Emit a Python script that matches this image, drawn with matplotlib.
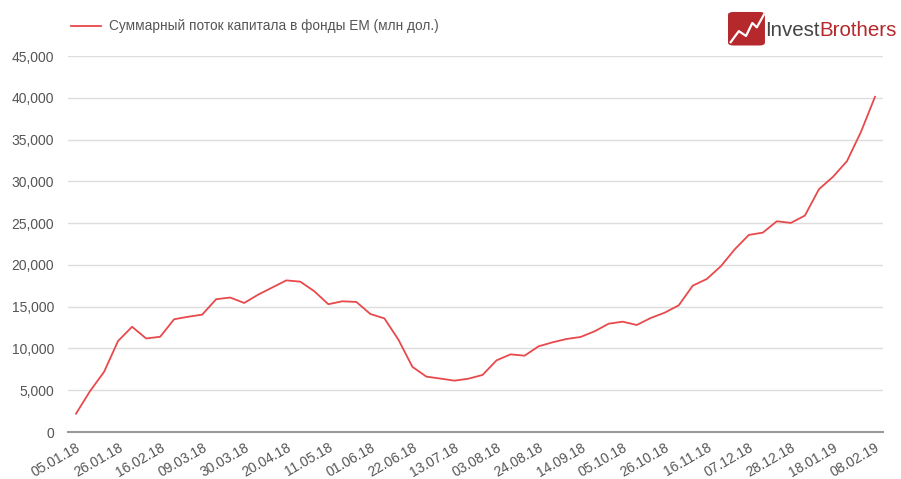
import matplotlib
matplotlib.use('Agg')
import matplotlib.pyplot as plt
from matplotlib.patches import FancyBboxPatch
from matplotlib.ticker import FuncFormatter

# Weekly cumulative flow into EM funds, 05.01.18 .. 08.02.19
values = [2200, 4900, 7200, 10900, 12600, 11200, 11400, 13500, 13800, 14050,
          15900, 16100, 15450, 16450, 17300, 18150, 18000, 16850, 15300, 15650,
          15570, 14130, 13600, 11060, 7800, 6630, 6400, 6150, 6390, 6830,
          8580, 9300, 9140, 10260, 10740, 11140, 11380, 12060, 12970, 13210,
          12810, 13650, 14290, 15170, 17520, 18320, 19840, 21880, 23590, 23870,
          25230, 25030, 25910, 29060, 30540, 32420, 35930, 40120]
tick_labels = ['05.01.18', '26.01.18', '16.02.18', '09.03.18', '30.03.18',
               '20.04.18', '11.05.18', '01.06.18', '22.06.18', '13.07.18',
               '03.08.18', '24.08.18', '14.09.18', '05.10.18', '26.10.18',
               '16.11.18', '07.12.18', '28.12.18', '18.01.19', '08.02.19']
yticks = list(range(0, 45001, 5000))
series_name = 'Суммарный поток капитала в фонды EM (млн дол.)'

line_color = '#e8494c'
text_color = '#555555'
plt.rcParams['font.family'] = ['Liberation Sans', 'DejaVu Sans']

fig = plt.figure(figsize=(9.01, 4.79), dpi=100)
ax = fig.add_axes([0.0755, 0.098, 0.9045, 0.785])

x = list(range(len(values)))
ax.plot(x, values, color=line_color, linewidth=1.3, label=series_name)

ax.set_ylim(0, 45000)
ax.set_xlim(-0.57, len(values) - 1 + 0.57)
ax.set_yticks(yticks)
ax.yaxis.set_major_formatter(FuncFormatter(lambda v, p: f'{int(v):,}'))
ax.set_xticks(x[::3])
ax.set_xticklabels(tick_labels, rotation=30, ha='right', rotation_mode='anchor')

ax.grid(axis='y', color='#dddddd', linewidth=1)
ax.set_axisbelow(True)
for s in ['top', 'right', 'left']:
    ax.spines[s].set_visible(False)
ax.spines['bottom'].set_color('#999999')
ax.spines['bottom'].set_linewidth(1.5)
ax.tick_params(axis='both', length=0, labelsize=10, labelcolor=text_color)
ax.tick_params(axis='y', pad=10)
ax.tick_params(axis='x', pad=6)

leg = fig.legend(loc='upper left', bbox_to_anchor=(0.065, 0.985), frameon=False,
                 fontsize=9.8, handlelength=2.2, handletextpad=0.6)
for t in leg.get_texts():
    t.set_color(text_color)

# InvestBrothers logo
box = FancyBboxPatch((0.808, 0.905), 0.041, 0.07, boxstyle='round,pad=0,rounding_size=0.006',
                     transform=fig.transFigure, facecolor='#b5282c', edgecolor='none')
fig.patches.append(box)
fig.lines.append(plt.Line2D([0.811, 0.820, 0.828, 0.835, 0.840, 0.848],
                            [0.912, 0.935, 0.925, 0.952, 0.943, 0.970],
                            transform=fig.transFigure, color='white', linewidth=1.6))
t1 = fig.text(0.849, 0.936, 'Invest', fontsize=14.8, color='#444444', va='center', ha='left')
fig.canvas.draw()
bb = t1.get_window_extent()
x2 = fig.transFigure.inverted().transform((bb.x1, bb.y0))[0]
fig.text(x2, 0.936, 'Brothers', fontsize=14.8, color='#b5282c', va='center', ha='left')

fig.savefig('out.png', dpi=100)
